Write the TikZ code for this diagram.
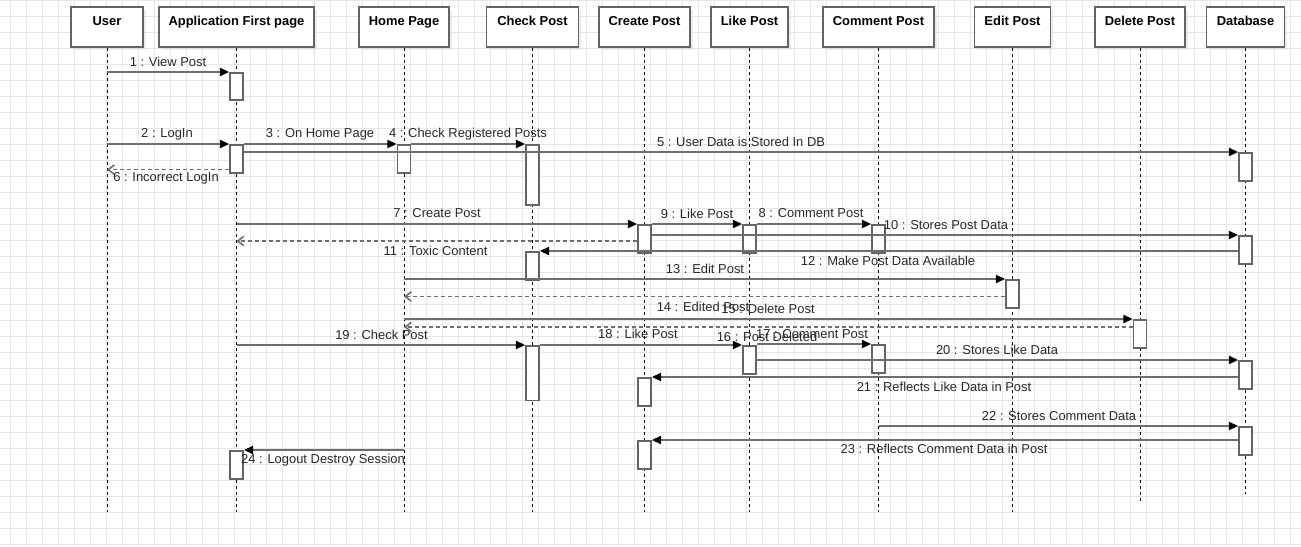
\documentclass[tikz,border=0pt]{standalone}
\usepackage{fontspec}
\setmainfont{Liberation Sans}
\usetikzlibrary{arrows.meta,positioning,calc,shadows}
\definecolor{LineGray}{RGB}{110,110,110}
\definecolor{BoxGray}{RGB}{100,100,100}
\definecolor{TextGray}{RGB}{40,40,40}
\definecolor{GridGray}{RGB}{230,230,230}

\begin{document}
\begin{tikzpicture}[x=0.75pt,y=-0.75pt,
    head/.style={draw=BoxGray, line width=1.2pt, fill=white, inner xsep=0pt, inner ysep=0pt,
      text height=13.5pt, text depth=16.5pt, minimum height=30pt,
      font=\fontsize{9.7}{11}\selectfont\bfseries,
      drop shadow={shadow xshift=2pt, shadow yshift=-2pt, fill=black!14}},
    life/.style={black, line width=0.75pt, dash pattern=on 2.25pt off 2.25pt},
    act/.style={draw=BoxGray, fill=white, line width=1.2pt, minimum width=9.75pt,
      minimum height=21pt, inner sep=0pt, anchor=north},
    msg/.style={LineGray, line width=1.5pt, -{Triangle[length=7pt,width=6pt,color=black]}},
    ret/.style={LineGray, line width=1.2pt, dash pattern=on 3pt off 2.25pt,
      -{Straight Barb[length=4.5pt,width=7pt]}},
    lbl/.style={font=\fontsize{9.7}{11}\selectfont, text=TextGray, inner sep=0pt}]
  \fill[white] (0,0) rectangle (1301,546);
  \useasboundingbox (0,0) rectangle (1301,546);
  \begin{scope}[xshift=7.5pt]
    \draw[GridGray, line width=0.6pt, step=12pt] (-10,0) grid (1291,546);
  \end{scope}

  % lifelines
  \foreach \nm/\x/\w/\txt/\yend in {
      user/107/54pt/User/512,
      app/236.5/116.25pt/Application First page/512,
      home/404/67.5pt/Home Page/512,
      check/532.5/69pt/Check Post/512,
      create/644.5/68.25pt/Create Post/512,
      like/749.5/57.75pt/Like Post/512,
      comment/878.5/83.25pt/Comment Post/512,
      edit/1012.5/57pt/Edit Post/512,
      delete/1140/67.5pt/Delete Post/501,
      db/1245.5/58.5pt/Database/494} {
    \node[head, minimum width=\w] (\nm) at (\x,27) {\txt};
    \coordinate (\nm-end) at (\x,\yend);
    \draw[life] (\nm.south) -- (\nm-end);
  }

  % activations
  \node[act, minimum height=20.25pt] (appA1) at (236.5,72) {};
  \node[act] (appA2) at (236.5,144) {};
  \node[act] (homeA1) at (404,144) {};
  \node[act, minimum height=45pt] (checkA1) at (532.5,144) {};
  \node[act] (dbA1) at (1245.5,152) {};
  \node[act] (createA1) at (644.5,224) {};
  \node[act] (likeA1) at (749.5,224) {};
  \node[act] (commentA1) at (878.5,224) {};
  \node[act] (dbA2) at (1245.5,235) {};
  \node[act] (checkA2) at (532.5,251) {};
  \node[act] (editA1) at (1012.5,279) {};
  \node[act] (deleteA1) at (1140,319) {};
  \node[act, minimum height=41pt] (checkA3) at (532.5,345) {};
  \node[act] (likeA2) at (749.5,345) {};
  \node[act] (commentA2) at (878.5,344) {};
  \node[act] (dbA3) at (1245.5,360) {};
  \node[act] (createA2) at (644.5,377) {};
  \node[act] (dbA4) at (1245.5,426) {};
  \node[act] (createA3) at (644.5,440) {};
  \node[act] (appA3) at (236.5,450) {};

  % return points
  \coordinate (r6) at ($(appA2.south west)+(0,-4)$);
  \coordinate (r11) at ($(createA1.north west)+(0,17)$);
  \coordinate (r14) at ($(editA1.north west)+(0,17.5)$);
  \coordinate (r16) at ($(deleteA1.north west)+(0,8)$);

  % messages
  \draw[msg] (user |- appA1.north) -- (appA1.north west);
  \draw[msg] (user |- appA2.north) -- (appA2.north west);
  \draw[msg] (appA2.north east) -- (homeA1.north west);
  \draw[msg] (homeA1.north east) -- (checkA1.north west);
  \draw[msg] (appA2.east |- dbA1.north) -- (dbA1.north west);
  \draw[ret] (r6) -- (user |- r6);
  \draw[msg] (app |- createA1.north) -- (createA1.north west);
  \draw[msg] (createA1.north east) -- (likeA1.north west);
  \draw[msg] (likeA1.north east) -- (commentA1.north west);
  \draw[msg] (createA1.east |- dbA2.north) -- (dbA2.north west);
  \draw[ret] (r11) -- (app |- r11);
  \draw[msg] (dbA2.west |- checkA2.north) -- (checkA2.north east);
  \draw[msg] (home |- editA1.north) -- (editA1.north west);
  \draw[ret] (r14) -- (home |- r14);
  \draw[msg] (home |- deleteA1.north) -- (deleteA1.north west);
  \draw[ret] (r16) -- (home |- r16);
  \draw[msg] (app |- checkA3.north) -- (checkA3.north west);
  \draw[msg] (checkA3.north east) -- (likeA2.north west);
  \draw[msg] (likeA2.east |- commentA2.north) -- (commentA2.north west);
  \draw[msg] (likeA2.east |- dbA3.north) -- (dbA3.north west);
  \draw[msg] (dbA3.west |- createA2.north) -- (createA2.north east);
  \draw[msg] (comment |- dbA4.north) -- (dbA4.north west);
  \draw[msg] (dbA4.west |- createA3.north) -- (createA3.north east);
  \draw[msg] (home |- appA3.north) -- (appA3.north east);

  % labels
  \node[lbl] (l1) at (168,62) {1 : View Post};
  \node[lbl] (l2) at (167,134) {2 : LogIn};
  \node[lbl] (l3) at (320,134) {3 : On Home Page};
  \node[lbl] (l4) at (468,134) {4 : Check Registered Posts};
  \node[lbl] (l5) at (741,142) {5 : User Data is Stored In DB};
  \node[lbl] (l6) at (166,178) {6 : Incorrect LogIn};
  \node[lbl] (l7) at (437,213) {7 : Create Post};
  \node[lbl] (l8) at (811,213) {8 : Comment Post};
  \node[lbl] (l9) at (697,214) {9 : Like Post};
  \node[lbl] (l10) at (946,225) {10 : Stores Post Data};
  \node[lbl] (l11) at (435.5,251) {11 : Toxic Content};
  \node[lbl] (l12) at (888,261) {12 : Make Post Data Available};
  \node[lbl] (l13) at (705,269) {13 : Edit Post};
  \node[lbl] (l14) at (703,307) {14 : Edited Post};
  \node[lbl] (l15) at (768,309) {15 : Delete Post};
  \node[lbl] (l16) at (767,337) {16 : Post Deleted};
  \node[lbl] (l17) at (812,334) {17 : Comment Post};
  \node[lbl] (l18) at (638,334) {18 : Like Post};
  \node[lbl] (l19) at (381.5,335) {19 : Check Post};
  \node[lbl] (l20) at (997,350) {20 : Stores Like Data};
  \node[lbl] (l21) at (944,387) {21 : Reflects Like Data in Post};
  \node[lbl] (l22) at (1059,416) {22 : Stores Comment Data};
  \node[lbl] (l23) at (944,449) {23 : Reflects Comment Data in Post};
  \node[lbl] (l24) at (323,460) {24 : Logout Destroy Session};
\end{tikzpicture}
\end{document}
